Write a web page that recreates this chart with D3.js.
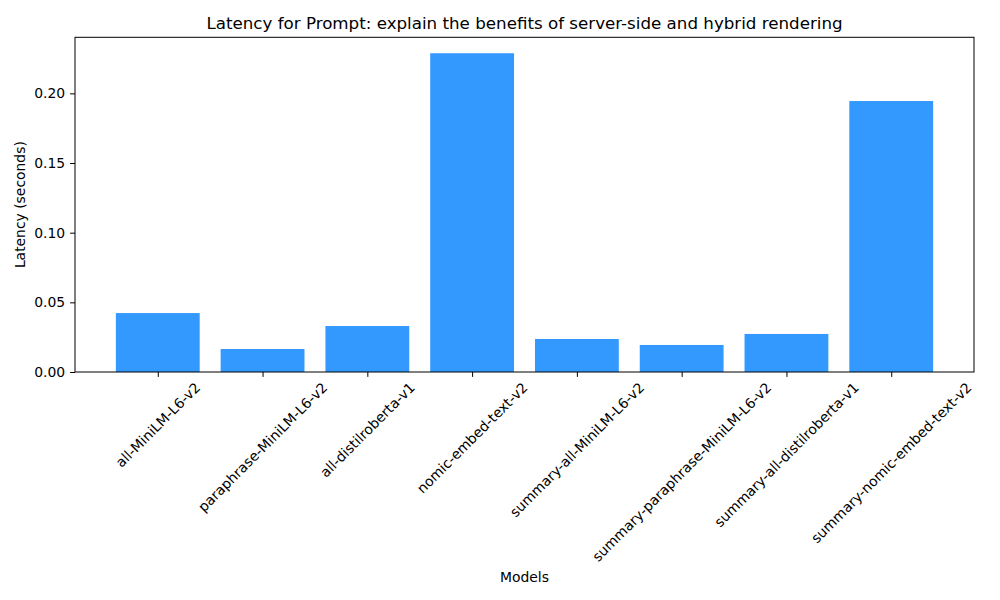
<!DOCTYPE html>
<html><head><meta charset="utf-8">
<script src="https://cdn.jsdelivr.net/npm/d3@7"></script>
<style>
body{margin:0;background:#fff;}
text{font-family:"DejaVu Sans",sans-serif;fill:#000;}
</style></head>
<body><svg id="c" width="1000" height="600"></svg>
<script>
const categories = ["all-MiniLM-L6-v2","paraphrase-MiniLM-L6-v2","all-distilroberta-v1","nomic-embed-text-v2","summary-all-MiniLM-L6-v2","summary-paraphrase-MiniLM-L6-v2","summary-all-distilroberta-v1","summary-nomic-embed-text-v2"];
const latency = [0.0423, 0.0165, 0.0330, 0.2288, 0.0237, 0.0194, 0.0273, 0.1945];
const yTicks = [0.00, 0.05, 0.10, 0.15, 0.20];
const titleText = "Latency for Prompt: explain the benefits of server-side and hybrid rendering";

const svg = d3.select("#c");
const L = 75, R = 974, T = 37.3, B = 372;
const n = categories.length;
const x = d3.scaleLinear().domain([-0.4 - 0.39, n - 1 + 0.4 + 0.39]).range([L, R]);
const yMax = d3.max(latency) * 1.05;
const y = d3.scaleLinear().domain([0, yMax]).range([B, T]);
const barW = 0.8;

svg.append("g").selectAll("rect").data(latency).join("rect")
  .attr("x", (d, i) => x(i - barW / 2))
  .attr("width", (d, i) => x(i + barW / 2) - x(i - barW / 2))
  .attr("y", d => y(d))
  .attr("height", d => y(0) - y(d))
  .attr("fill", "#3399ff");

// frame
svg.append("rect").attr("x", L).attr("y", T).attr("width", R - L).attr("height", B - T)
  .attr("fill", "none").attr("stroke", "#000").attr("stroke-width", 1);

// y axis
const yAxis = d3.axisLeft(y).tickValues(yTicks).tickFormat(d3.format(".2f")).tickSize(4.9).tickPadding(4.9);
const gy = svg.append("g").attr("transform", `translate(${L},0)`).call(yAxis);
gy.select(".domain").remove();
gy.selectAll("text").style("font-size", "13.9px").style("font-family", "DejaVu Sans");
gy.selectAll("line").attr("stroke", "#000");

// x axis ticks
const xAxis = d3.axisBottom(x).tickValues(d3.range(n)).tickFormat("").tickSize(4.9);
const gx = svg.append("g").attr("transform", `translate(0,${B})`).call(xAxis);
gx.select(".domain").remove();
gx.selectAll("line").attr("stroke", "#000");

// rotated x labels, bbox centered at tick, top at B+7
const lg = svg.append("g");
categories.forEach((c, i) => {
  const t = lg.append("text").text(c).style("font-size", "13.9px")
    .attr("text-anchor", "middle").attr("dominant-baseline", "central");
  const w = t.node().getComputedTextLength();
  const h = 13.9 * 1.0;
  const half = (w + h) * Math.SQRT1_2 / 2;
  const cx = x(i), cy = B + 8 + half;
  t.attr("x", cx).attr("y", cy).attr("transform", `rotate(-45,${cx},${cy})`);
});

svg.append("text").attr("x", (L + R) / 2).attr("y", 29).attr("text-anchor", "middle")
  .style("font-size", "16.7px").text(titleText);
svg.append("text").attr("x", (L + R) / 2).attr("y", 582).attr("text-anchor", "middle")
  .style("font-size", "13.9px").text("Models");
svg.append("text").attr("transform", `translate(25,${(T + B) / 2}) rotate(-90)`).attr("text-anchor", "middle")
  .style("font-size", "13.9px").text("Latency (seconds)");
</script></body></html>
